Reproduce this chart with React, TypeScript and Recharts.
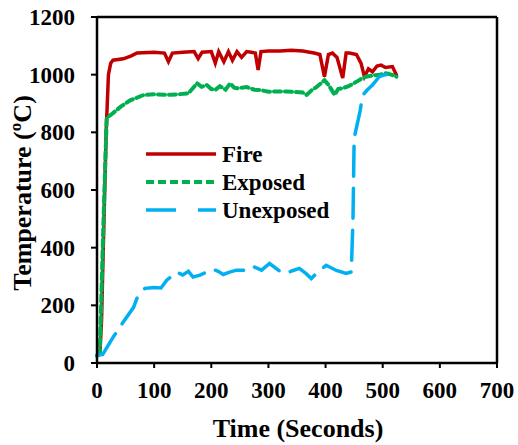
import React from 'react';
import { LineChart, Line, XAxis, YAxis, ReferenceLine } from 'recharts';

const FONT = '"Liberation Serif", "Times New Roman", serif';

const xTicks = [0, 100, 200, 300, 400, 500, 600, 700];
const yTicks = [0, 200, 400, 600, 800, 1000, 1200];

const fireTime = [0, 5, 8, 11, 16, 20, 24, 28, 46, 60, 70, 100, 118, 125, 132, 150, 170, 177, 184, 200, 207, 213, 222, 230, 237, 245, 253, 262, 270, 277, 282, 287, 300, 320, 340, 360, 380, 390, 398, 405, 412, 420, 430, 436, 442, 454, 462, 468, 475, 482, 490, 497, 505, 517, 524];
const fireTemp = [25, 30, 150, 400, 800, 1000, 1040, 1050, 1055, 1065, 1075, 1078, 1075, 1045, 1075, 1078, 1080, 1056, 1078, 1080, 1040, 1080, 1045, 1080, 1050, 1080, 1060, 1080, 1078, 1075, 1016, 1080, 1082, 1082, 1085, 1082, 1075, 1070, 993, 1070, 1075, 1060, 988, 1075, 1075, 1070, 1040, 993, 1020, 1010, 1030, 1033, 1025, 1028, 999];

const exposedTime = [0, 5, 10, 13, 17, 25, 41, 58, 81, 100, 130, 160, 175, 183, 192, 200, 207, 215, 225, 233, 240, 245, 262, 275, 285, 300, 330, 360, 367, 375, 384, 392, 398, 405, 416, 422, 430, 440, 454, 462, 471, 485, 495, 506, 515, 524];
const exposedTemp = [25, 40, 400, 600, 850, 862, 888, 911, 929, 932, 930, 935, 970, 958, 964, 950, 947, 960, 948, 970, 955, 953, 957, 948, 947, 941, 942, 938, 930, 945, 957, 970, 981, 965, 930, 950, 953, 960, 975, 985, 993, 998, 1000, 1005, 1000, 993];

const unexposedTime = [0, 10, 28, 46, 64, 70, 84, 100, 112, 122, 140, 150, 160, 168, 180, 192, 203, 212, 221, 232, 244, 261, 273, 288, 302, 320, 331, 342, 354, 366, 375, 384, 401, 419, 436, 445, 448, 450, 460, 465, 472, 482, 494, 505, 517, 524];
const unexposedTemp = [27, 30, 89, 142, 193, 225, 259, 262, 260, 287, 315, 305, 318, 298, 305, 315, 325, 318, 307, 315, 322, 322, 335, 322, 345, 318, 311, 320, 328, 310, 293, 311, 339, 321, 311, 316, 500, 780, 870, 929, 945, 964, 993, 1000, 1000, 1000];

const toPoints = (ts: number[], vs: number[]) => ts.map((t, i) => ({ t, v: vs[i] }));

const series = [
  { name: 'Fire', data: toPoints(fireTime, fireTemp), color: '#C00000', dash: undefined, width: 3.5 },
  { name: 'Exposed', data: toPoints(exposedTime, exposedTemp), color: '#00B050', dash: '7 4', width: 4 },
  { name: 'Unexposed', data: toPoints(unexposedTime, unexposedTemp), color: '#00B0F0', dash: '30 12', width: 3.5 },
];

const legendDash: Record<string, string | undefined> = {
  Fire: undefined,
  Exposed: '8 4',
  Unexposed: '30 22',
};

const LegendBox = () => (
  <svg width={240} height={90}>
    {series.map((s, i) => (
      <g key={s.name}>
        <line x1={2} x2={72} y1={12 + i * 28} y2={12 + i * 28} stroke={s.color} strokeWidth={s.width} strokeDasharray={legendDash[s.name]} />
        <text x={78} y={20 + i * 28} fontFamily={FONT} fontWeight="bold" fontSize={23} fill="#000">{s.name}</text>
      </g>
    ))}
  </svg>
);

const XTick = (props: any) => {
  const { x, y, payload } = props;
  return (
    <text x={x} y={y + 28} textAnchor="middle" fontFamily={FONT} fontWeight="bold" fontSize={23} fill="#000">
      {payload.value}
    </text>
  );
};

const YTick = (props: any) => {
  const { x, y, payload } = props;
  return (
    <text x={x} y={y + 8} textAnchor="end" fontFamily={FONT} fontWeight="bold" fontSize={23} fill="#000">
      {payload.value}
    </text>
  );
};

export default function App() {
  return (
    <div style={{ position: 'absolute', left: 0, top: 0, width: 518, height: 445, background: '#fff' }}>
      <LineChart width={518} height={445} margin={{ top: 17, right: 21, left: 17, bottom: 32 }}>
        <XAxis
          dataKey="t"
          type="number"
          domain={[0, 700]}
          ticks={xTicks}
          allowDuplicatedCategory={false}
          height={50}
          stroke="#000"
          strokeWidth={2.5}
          tickSize={5}
          tickMargin={2}
          tick={<XTick />}
          tickLine={{ stroke: '#000', strokeWidth: 2 }}
          label={() => (
            <text x={298} y={437} textAnchor="middle" fontFamily={FONT} fontWeight="bold" fontSize={26} fill="#000">
              Time (Seconds)
            </text>
          )}
        />
        <YAxis
          type="number"
          domain={[0, 1200]}
          ticks={yTicks}
          width={80}
          stroke="#000"
          strokeWidth={2.5}
          tickSize={6}
          tickMargin={16}
          tick={<YTick />}
          tickLine={{ stroke: '#000', strokeWidth: 2 }}
          label={() => (
            <text x={31} y={193} transform="rotate(-90 31 193)" textAnchor="middle" fontFamily={FONT} fontWeight="bold" fontSize={26} fill="#000">
              Temperature (ºC)
            </text>
          )}
        />
        <ReferenceLine y={1200} stroke="#000" strokeWidth={2.5} />
        <ReferenceLine x={700} stroke="#000" strokeWidth={2.5} />
        {series.map((s) => (
          <Line
            key={s.name}
            data={s.data}
            dataKey="v"
            name={s.name}
            type="linear"
            stroke={s.color}
            strokeWidth={s.width}
            strokeDasharray={s.dash}
            strokeLinecap="round"
            dot={false}
            activeDot={false}
            isAnimationActive={false}
          />
        ))}
      </LineChart>
      <div style={{ position: 'absolute', left: 144, top: 142 }}>
        <LegendBox />
      </div>
    </div>
  );
}
